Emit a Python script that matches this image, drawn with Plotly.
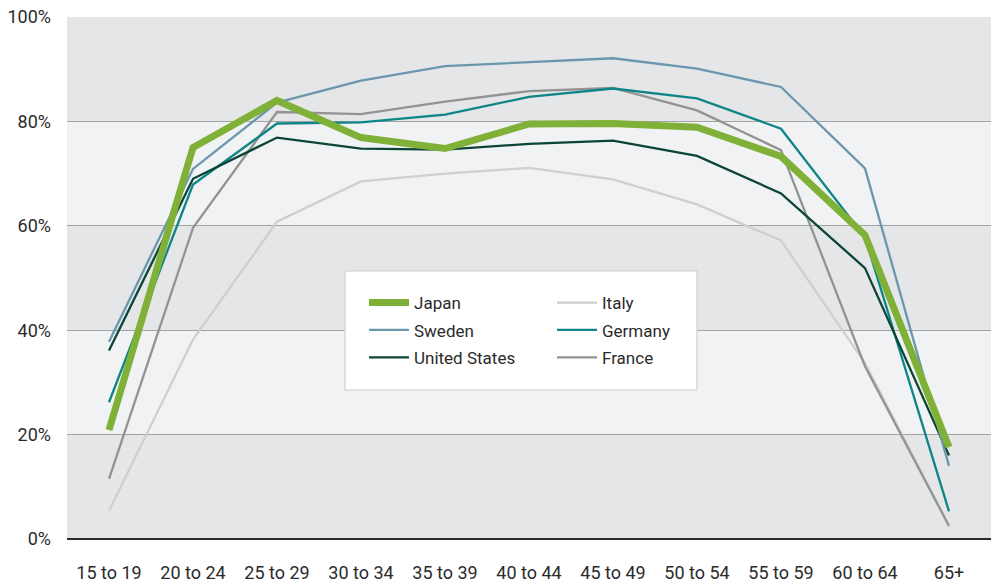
import plotly.graph_objects as go

age_groups = ["15 to 19", "20 to 24", "25 to 29", "30 to 34", "35 to 39", "40 to 44",
              "45 to 49", "50 to 54", "55 to 59", "60 to 64", "65+"]

japan   = [20.9, 75.0, 84.0, 76.9, 74.8, 79.5, 79.6, 78.9, 73.3, 58.2, 17.6]
sweden  = [37.8, 70.9, 83.6, 87.8, 90.6, 91.4, 92.1, 90.1, 86.6, 71.0, 14.0]
usa     = [36.1, 69.0, 76.9, 74.8, 74.6, 75.7, 76.3, 73.4, 66.2, 51.9, 16.0]
italy   = [5.4, 38.2, 60.8, 68.5, 70.0, 71.1, 68.9, 64.1, 57.2, 33.7, 2.6]
germany = [26.2, 67.9, 79.6, 79.8, 81.3, 84.7, 86.3, 84.4, 78.6, 57.8, 5.3]
france  = [11.5, 59.6, 81.8, 81.4, 83.8, 85.8, 86.4, 82.1, 74.5, 33.1, 2.5]

y_ticks = [0, 20, 40, 60, 80, 100]
y_tick_labels = ["0%", "20%", "40%", "60%", "80%", "100%"]

FONT = "Roboto"
TEXT = "#2b2b2b"

series = [
    # (name, values, color, width, legend, rank)
    ("Italy", italy, "#cfcfcf", 2.3, "legend2", 1),
    ("France", france, "#939394", 2.3, "legend2", 3),
    ("Germany", germany, "#0e8587", 2.3, "legend2", 2),
    ("United States", usa, "#0c4535", 2.3, "legend", 3),
    ("Sweden", sweden, "#6b97ae", 2.3, "legend", 2),
    ("Japan", japan, "#7fb037", 7, "legend", 1),
]

fig = go.Figure()
for name, vals, color, w, leg, rank in series:
    fig.add_trace(go.Scatter(
        x=age_groups, y=vals, mode="lines", name=name,
        line=dict(color=color, width=w), legend=leg, legendrank=rank,
        legendgroup=name,
    ))

# alternating background bands
band_dark = "#e5e6e8"
band_light = "#f1f2f4"
for i in range(5):
    fig.add_shape(type="rect", xref="paper", yref="y", x0=0, x1=1,
                  y0=i * 20, y1=(i + 1) * 20,
                  fillcolor=band_dark if i % 2 == 0 else band_light,
                  line_width=0, layer="below")

# legend box
PW, PH, ML, MB = 924, 522, 67, 45
fig.add_shape(type="rect", xref="paper", yref="paper",
              x0=(345 - ML) / PW, x1=(697 - ML) / PW,
              y0=(539 - 390) / PH, y1=(539 - 271) / PH,
              fillcolor="white", line=dict(color="#cfcfcf", width=1.2), layer="above")

legend_common = dict(
    orientation="v", yanchor="top", xanchor="left",
    bgcolor="rgba(0,0,0,0)", borderwidth=0,
    font=dict(family=FONT, size=17, color=TEXT),
    tracegroupgap=2.3, itemwidth=40,
)

fig.update_layout(
    width=996, height=584,
    margin=dict(l=ML, r=5, t=17, b=MB),
    paper_bgcolor="white",
    plot_bgcolor=band_light,
    font=dict(family=FONT, size=18, color=TEXT),
    showlegend=True,
    legend=dict(x=(364 - ML) / PW, y=(539 - 285) / PH, **legend_common),
    legend2=dict(x=(552 - ML) / PW, y=(539 - 285) / PH, **legend_common),
    xaxis=dict(
        type="category", range=[-0.5, 10.5], showgrid=False, zeroline=False,
        showline=False, ticks="", ticklabelstandoff=21, automargin=False,
        tickfont=dict(family=FONT, size=18, color=TEXT), fixedrange=True,
    ),
    yaxis=dict(
        range=[0, 100], tickvals=y_ticks, ticktext=y_tick_labels,
        showgrid=True, gridcolor="#a3a3a3", gridwidth=1.3,
        zeroline=True, zerolinecolor="#2a2a2a", zerolinewidth=2,
        showline=False, ticks="", ticklabelstandoff=15, automargin=False,
        tickfont=dict(family=FONT, size=18, color=TEXT), fixedrange=True,
    ),
)

fig.write_html("out.html")
